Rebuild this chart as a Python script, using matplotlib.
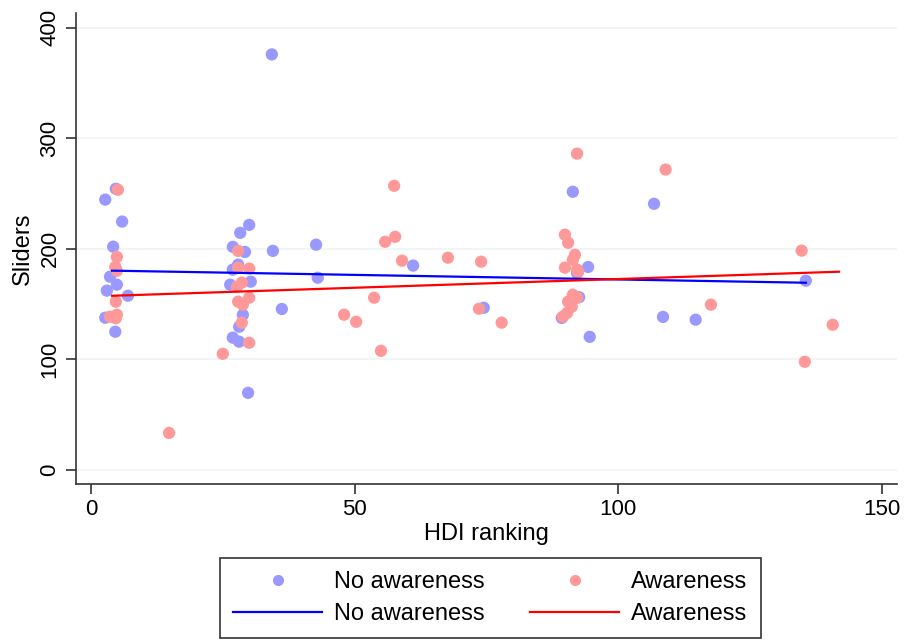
import matplotlib
matplotlib.use("Agg")
import matplotlib.pyplot as plt
from matplotlib.lines import Line2D

plt.rcParams['font.family'] = ['Liberation Sans', 'DejaVu Sans']

# HDI ranking (jittered) vs sliders, by awareness group
hdi_no = [4.7, 2.7, 5.9, 4.2, 3.6, 4.9, 3.0, 7.0, 2.7, 4.6,
          30.0, 28.3, 26.9, 29.2, 34.5, 27.9, 26.9, 30.3, 26.4, 36.2,
          28.8, 28.1, 26.9, 28.1, 29.8, 34.3,
          42.7, 43.0, 61.1, 74.5, 91.4, 94.3, 92.2, 92.6, 89.3, 94.6,
          106.8, 108.5, 114.7, 135.6]
sl_no = [254.2, 244.4, 224.5, 201.8, 174.6, 167.4, 162.0, 157.4, 137.5, 124.8,
         221.5, 214.3, 201.6, 197.0, 198.0, 185.5, 181.0, 170.1, 167.4, 145.4,
         140.1, 129.3, 119.4, 115.8, 69.5, 375.8,
         203.6, 173.7, 184.7, 146.5, 251.5, 183.4, 178.0, 156.0, 137.3, 120.2,
         240.6, 138.2, 135.7, 171.0]

hdi_aw = [5.1, 4.9, 4.6, 4.9, 4.7, 4.9, 3.6, 4.7, 14.8,
          27.9, 27.9, 30.0, 28.6, 27.7, 30.0, 27.9, 28.8, 28.6, 30.0, 25.0,
          57.5, 57.7, 55.8, 59.0, 67.7, 74.0, 73.6, 77.9, 53.7, 48.0, 50.3, 55.0,
          89.9, 90.5, 91.8, 91.4, 89.9, 92.2, 91.4, 92.2, 90.5, 91.2, 89.5, 90.3,
          92.2, 92.4,
          109.0, 117.6, 134.8, 140.7, 135.4]
sl_aw = [253.3, 192.5, 183.5, 180.0, 152.0, 140.2, 138.4, 137.0, 33.2,
         198.0, 182.8, 181.9, 169.2, 165.6, 155.6, 152.0, 149.3, 133.0, 114.8, 104.8,
         256.9, 210.7, 206.2, 189.1, 191.8, 188.2, 145.6, 133.0, 155.6, 140.2, 133.8, 107.5,
         212.6, 205.3, 194.4, 189.9, 182.8, 181.0, 158.3, 155.6, 152.0, 147.4, 138.4, 141.7,
         286.0, 179.0,
         271.6, 149.3, 198.2, 131.1, 97.6]

# linear fits: intercept, slope, x range
fit_no = (180.4, -0.083, 4.0, 135.6)
fit_aw = (156.7, 0.158, 4.0, 141.9)

blue_pt, red_pt = '#9999ff', '#ff9999'

fig = plt.figure(figsize=(9.06, 6.4), dpi=100)
ax = fig.add_axes([0.0836, 0.2438, 0.9065, 0.7354])

for y in [0, 100, 200, 300, 400]:
    ax.axhline(y, color='#eef3f4', lw=1.2, zorder=0)

ax.scatter(hdi_no, sl_no, s=78, color=blue_pt, edgecolors='none', zorder=2)
ax.scatter(hdi_aw, sl_aw, s=78, color=red_pt, edgecolors='none', zorder=2)

for (b0, b1, x0, x1), c in [(fit_no, '#0000ff'), (fit_aw, '#ff0000')]:
    ax.plot([x0, x1], [b0 + b1 * x0, b0 + b1 * x1], color=c, lw=1.6, zorder=3)

ax.set_xlim(-2.9, 152.9)
ax.set_ylim(-13, 413)
ax.set_xticks([0, 50, 100, 150])
ax.set_yticks([0, 100, 200, 300, 400])
ax.set_yticklabels(['0', '100', '200', '300', '400'], rotation=90, va='center')
ax.tick_params(labelsize=16, length=7, width=1.2, color='#333333', pad=4)
for side in ['top', 'right']:
    ax.spines[side].set_visible(False)
for side in ['left', 'bottom']:
    ax.spines[side].set_color('#333333')
    ax.spines[side].set_linewidth(1.2)

ax.set_xlabel('HDI ranking', fontsize=17, labelpad=2)
ax.set_ylabel('Sliders', fontsize=17, labelpad=4)

handles = [
    Line2D([], [], ls='none', marker='o', ms=8, color=blue_pt, mec='none'),
    Line2D([], [], color='#0000ff', lw=1.6),
    Line2D([], [], ls='none', marker='o', ms=8, color=red_pt, mec='none'),
    Line2D([], [], color='#ff0000', lw=1.6),
]
labels = ['No awareness', 'No awareness', 'Awareness', 'Awareness']
leg = fig.legend(handles, labels, ncol=2, loc='center', bbox_to_anchor=(0.541, 0.065),
                 fontsize=17, frameon=True, fancybox=False, edgecolor='black',
                 handlelength=3.8, handletextpad=0.5, columnspacing=1.9,
                 labelspacing=0.42, borderpad=0.55)
leg.get_frame().set_linewidth(1.2)

fig.savefig('out.png', dpi=100)
